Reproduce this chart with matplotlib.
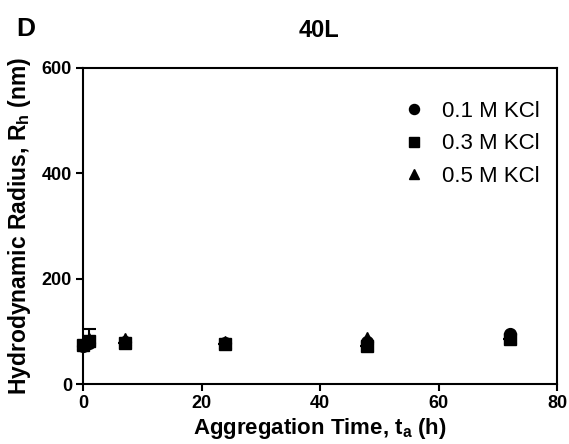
import matplotlib
matplotlib.use("Agg")
import matplotlib.pyplot as plt

plt.rcParams["font.family"] = ["Liberation Sans", "DejaVu Sans"]
plt.rcParams["mathtext.fontset"] = "custom"
plt.rcParams["mathtext.bf"] = "Liberation Sans:bold"
plt.rcParams["mathtext.rm"] = "Liberation Sans"

# ─── Dados ───────────────────────────────────────────────────────────────────
tempo = [0, 1, 7, 24, 48, 72]
rh_01 = [72, 78, 80, 78, 80, 95]
rh_03 = [75, 82, 78, 76, 72, 86]
rh_05 = [78, 85, 86, 80, 88, 90]
err_03 = [0, 22, 0, 0, 0, 0]

series = [
    ("0.1 M KCl", rh_01, "o", None),
    ("0.3 M KCl", rh_03, "s", err_03),
    ("0.5 M KCl", rh_05, "^", None),
]

fig = plt.figure(figsize=(5.69, 4.44), dpi=100)
ax = fig.add_axes([0.146, 0.135, 0.833, 0.712])

for label, vals, mk, err in series:
    if err is not None:
        ax.errorbar(tempo, vals, yerr=[[0] * len(err), err], fmt="none",
                    ecolor="black", elinewidth=1.5, capsize=5, capthick=1.5)
    ax.plot(tempo, vals, linestyle="none", marker=mk, markersize=8.5,
            color="black", label=label, clip_on=False)

ax.set_xlim(0, 80)
ax.set_ylim(0, 600)
ax.set_xticks([0, 20, 40, 60, 80])
ax.set_yticks([0, 200, 400, 600])
for s in ax.spines.values():
    s.set_linewidth(1.5)
ax.tick_params(direction="out", length=5, width=1.5, labelsize=13, pad=3)
for t in ax.get_xticklabels() + ax.get_yticklabels():
    t.set_fontweight("bold")

ax.set_xlabel("Aggregation Time, t$_\\mathbf{a}$ (h)", fontsize=16,
              fontweight="bold")
ax.set_ylabel("Hydrodynamic Radius, R$_\\mathbf{h}$ (nm)", fontsize=16.5,
              fontweight="bold")
ax.xaxis.set_label_coords(0.5, -0.102)
ax.yaxis.set_label_coords(-0.105, 0.5)

fig.text(0.561, 0.917, "40L", fontsize=17, fontweight="bold", ha="center")
fig.text(0.028, 0.919, "D", fontsize=19, fontweight="bold")

ax.legend(loc="upper right", bbox_to_anchor=(1.0, 0.953), frameon=False,
          fontsize=16, handletextpad=0.45, labelspacing=0.53,
          borderaxespad=0.4, markerscale=0.85, handlelength=1.6)

fig.savefig("out.png", dpi=100)
